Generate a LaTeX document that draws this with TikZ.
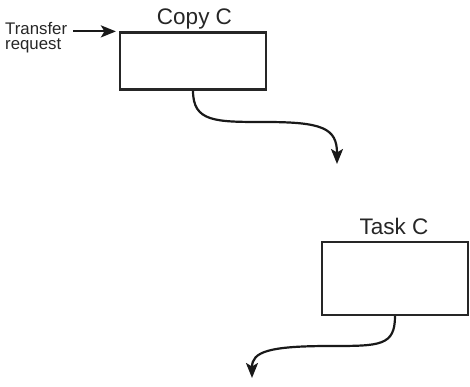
\documentclass[tikz,border=0pt]{standalone}
\usepackage{fontspec}
\setmainfont{Liberation Sans}
\usetikzlibrary{arrows.meta}
\begin{document}
\begin{tikzpicture}[x=1pt,y=-1pt,
  box/.style={draw=black!85, line width=2.2pt, inner sep=0pt, minimum width=146pt},
  ttl/.style={font=\fontsize{22.5}{26}\selectfont, text=black!85, anchor=base, inner sep=0pt},
  flow/.style={draw=black!90, line width=2.2pt,
    -{Stealth[length=15pt,width=12pt,inset=3.5pt]}}]
\useasboundingbox (0,0) rectangle (470,387);
\node[box, minimum height=57pt] (copy) at (193,61) {};
\node[ttl] (copyl) at (194.5,25) {Copy C};
\node[box, minimum height=73pt] (task) at (395,278.5) {};
\node[ttl] (taskl) at (394,234) {Task C};
\node[align=left, anchor=west, inner sep=0pt, text=black!85,
  font=\fontsize{16.8}{15.5}\selectfont] (xfer) at (5,37.5) {Transfer\\request};
\coordinate (e1) at (337,164);
\coordinate (e2) at (252,378);
\draw[flow, shorten <=6pt, shorten >=3pt] (xfer.east |- copy.north west) -- (copy.north west);
\draw[flow] (copy.south) .. controls (193,122) and (215,122) .. (265,122)
  .. controls (322,122) and (337,128) .. (e1);
\draw[flow] (task.south) .. controls (395,346) and (380,346) .. (330,346)
  .. controls (268,346) and (252,352) .. (e2);
\end{tikzpicture}
\end{document}
